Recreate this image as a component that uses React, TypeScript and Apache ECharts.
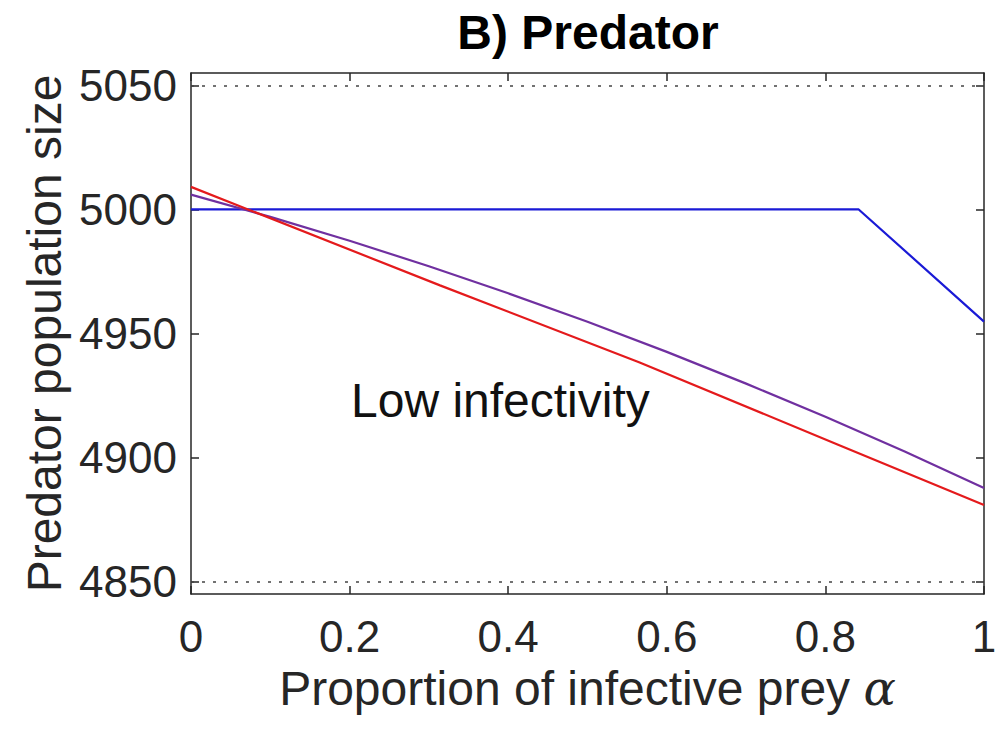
import React, { useEffect, useRef } from "react";
import * as echarts from "echarts";

const xTicks = [0, 0.2, 0.4, 0.6, 0.8, 1];
const yTicks = [4850, 4900, 4950, 5000, 5050];
const gridLines = [4850, 5050];

const blueX = [0, 0.842, 1];
const blueY = [5000, 5000, 4954.8];

const redX = [0, 0.314, 0.565, 0.816, 1];
const redY = [5009.1, 4969.4, 4938.4, 4905.2, 4880.9];

const purpleX = [0, 0.1, 0.2, 0.3, 0.4, 0.5, 0.6, 0.7, 0.8, 0.9, 1];
const purpleY = [5006.0, 4997.0, 4987.4, 4977.1, 4966.2, 4954.7, 4942.6, 4929.8, 4916.4, 4902.4, 4887.7];

const pairs = (xs: number[], ys: number[]) => xs.map((x, i) => [x, ys[i]]);

const AX = "#262626";
const FONT = "'Liberation Sans', Arial, Helvetica, sans-serif";

export default function App() {
  const ref = useRef<HTMLDivElement>(null);
  useEffect(() => {
    if (!ref.current) return;
    const chart = echarts.init(ref.current, null, { renderer: "svg" });
    const axisLine = { show: true, onZero: false, lineStyle: { color: AX, width: 1.5 } };
    const tick = { show: true, inside: true, length: 8, lineStyle: { color: AX, width: 1.5 } };
    chart.setOption({
      animation: false,
      backgroundColor: "#ffffff",
      grid: { left: 191, top: 73, right: 12, bottom: 141, outerBoundsMode: "none" },
      graphic: [
        {
          type: "text",
          x: 588,
          y: 32,
          style: {
            text: "B) Predator",
            font: `bold 48px ${FONT}`,
            fill: "#000",
            align: "center",
            verticalAlign: "middle",
          },
        },
        {
          type: "text",
          x: 351,
          y: 400,
          style: {
            text: "Low infectivity",
            font: `48px ${FONT}`,
            fill: "#111",
            align: "left",
            verticalAlign: "middle",
          },
        },
      ],
      xAxis: [
        {
          type: "value",
          min: 0,
          max: 1,
          interval: 0.2,
          position: "bottom",
          axisLine,
          axisTick: tick,
          splitLine: { show: false },
          axisLabel: {
            customValues: xTicks,
            fontSize: 44,
            fontFamily: FONT,
            color: AX,
            margin: 20,
            formatter: (v: number) => String(Math.round(v * 10) / 10),
          },
          name: "Proportion of infective prey {a|α}",
          nameLocation: "middle",
          nameGap: 70,
          nameTextStyle: {
            fontSize: 48,
            fontFamily: FONT,
            color: AX,
            rich: { a: { fontSize: 48, fontFamily: "'DejaVu Serif', serif", fontStyle: "italic", color: AX } },
          },
        },
        {
          type: "value",
          min: 0,
          max: 1,
          interval: 0.2,
          position: "top",
          axisLine,
          axisTick: tick,
          splitLine: { show: false },
          axisLabel: { show: false },
        },
      ],
      yAxis: [
        {
          type: "value",
          min: 4845,
          max: 5055,
          position: "left",
          axisLine,
          axisTick: { ...tick, customValues: yTicks },
          splitLine: { show: false },
          axisLabel: {
            customValues: yTicks,
            fontSize: 44,
            fontFamily: FONT,
            color: AX,
            margin: 14,
            formatter: (v: number) => String(v),
          },
          name: "Predator population size",
          nameLocation: "middle",
          nameGap: 118,
          nameRotate: 90,
          nameTextStyle: { fontSize: 48, fontFamily: FONT, color: AX },
        },
        {
          type: "value",
          min: 4845,
          max: 5055,
          position: "right",
          axisLine,
          axisTick: { ...tick, customValues: yTicks },
          splitLine: { show: false },
          axisLabel: { show: false },
        },
      ],
      series: [
        {
          type: "line",
          data: pairs(blueX, blueY),
          showSymbol: false,
          lineStyle: { color: "#1a1ad6", width: 2.2 },
          itemStyle: { color: "#1a1ad6" },
          markLine: {
            silent: true,
            symbol: "none",
            label: { show: false },
            lineStyle: { color: "#444", width: 1.5, type: [3, 8] },
            data: gridLines.map((v) => ({ yAxis: v })),
          },
        },
        {
          type: "line",
          data: pairs(purpleX, purpleY),
          showSymbol: false,
          lineStyle: { color: "#7030a0", width: 2.2 },
          itemStyle: { color: "#7030a0" },
        },
        {
          type: "line",
          data: pairs(redX, redY),
          showSymbol: false,
          lineStyle: { color: "#e41a1c", width: 2.2 },
          itemStyle: { color: "#e41a1c" },
        },
      ],
    });
    return () => chart.dispose();
  }, []);
  return (
    <div
      ref={ref}
      style={{ position: "fixed", left: 0, top: 0, width: 996, height: 735, background: "#fff" }}
    />
  );
}
